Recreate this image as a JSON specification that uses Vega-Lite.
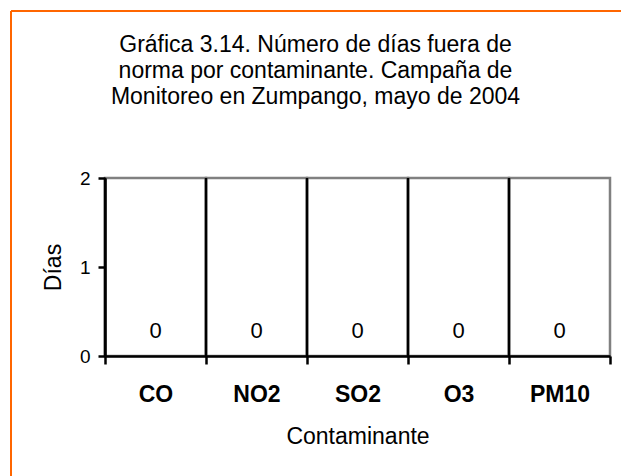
{
  "$schema": "https://vega.github.io/schema/vega-lite/v6.json",
  "width": 505,
  "height": 178,
  "autosize": "none",
  "padding": {"left": 105, "top": 178, "right": 11, "bottom": 120},
  "background": "white",
  "config": {"font": "Liberation Sans", "view": {"stroke": null}},
  "title": {
    "text": ["Gráfica 3.14. Número de días fuera de", "norma por contaminante. Campaña de", "Monitoreo en Zumpango, mayo de 2004"],
    "fontSize": 23,
    "fontWeight": "normal",
    "lineHeight": 26,
    "color": "black",
    "anchor": "middle",
    "frame": "group",
    "dx": -42,
    "offset": -99
  },
  "layer": [
    {
      "data": {"values": [
        {"contaminante": "CO", "dias": 0},
        {"contaminante": "NO2", "dias": 0},
        {"contaminante": "SO2", "dias": 0},
        {"contaminante": "O3", "dias": 0},
        {"contaminante": "PM10", "dias": 0}
      ]},
      "layer": [
        {
          "mark": {"type": "rect", "fill": null, "stroke": "#808080", "strokeWidth": 2.5},
          "encoding": {
            "x": {
              "field": "contaminante", "type": "nominal", "sort": null, "title": "Contaminante",
              "scale": {"paddingInner": 0, "paddingOuter": 0},
              "axis": {
                "orient": "bottom", "tickBand": "extent", "grid": false,
                "domainColor": "black", "domainWidth": 2.5,
                "tickColor": "black", "tickWidth": 2.5, "tickSize": 8,
                "labelAngle": 0, "labelFontSize": 23, "labelFontWeight": "bold", "labelColor": "black", "labelPadding": 19,
                "titleFontSize": 23, "titleFontWeight": "normal", "titleColor": "black", "titlePadding": 19,
                "zindex": 1
              }
            },
            "y": {
              "datum": 2, "type": "quantitative", "title": "Días",
              "scale": {"domain": [0, 2]},
              "axis": {
                "values": [0, 1, 2], "format": ".0f", "labelOverlap": false, "grid": false,
                "domainColor": "black", "domainWidth": 2.5,
                "tickColor": "black", "tickWidth": 2.5, "tickSize": 7,
                "labelFontSize": 19, "labelColor": "black", "labelPadding": 8,
                "titleFontSize": 23, "titleFontWeight": "normal", "titleColor": "black", "titlePadding": 14,
                "zindex": 1
              }
            },
            "y2": {"datum": 0}
          }
        },
        {
          "mark": {"type": "bar", "color": "#9999FF"},
          "encoding": {
            "x": {"field": "contaminante", "type": "nominal", "sort": null, "title": "Contaminante"},
            "y": {"field": "dias", "type": "quantitative", "title": "Días"}
          }
        },
        {
          "mark": {"type": "rule", "color": "black", "strokeWidth": 2.5},
          "encoding": {
            "x": {"field": "contaminante", "type": "nominal", "sort": null, "bandPosition": 0, "title": "Contaminante"},
            "y": {"datum": 0, "type": "quantitative", "title": "Días"},
            "y2": {"datum": 2}
          }
        },
        {
          "mark": {"type": "text", "fontSize": 22, "dy": -25, "baseline": "middle", "color": "black"},
          "encoding": {
            "x": {"field": "contaminante", "type": "nominal", "sort": null, "title": "Contaminante"},
            "y": {"field": "dias", "type": "quantitative", "title": "Días"},
            "text": {"field": "dias", "type": "quantitative"}
          }
        }
      ]
    },
    {
      "data": {"values": [{"marco": "borde"}]},
      "layer": [
        {
          "mark": {"type": "rule", "color": "#FF6600", "strokeWidth": 2},
          "encoding": {
            "x": {"datum": 0, "type": "quantitative", "scale": {"domain": [0, 1], "range": [-94, 530]}, "axis": null},
            "x2": {"datum": 1},
            "y": {"datum": 1, "type": "quantitative", "scale": {"domain": [0, 1], "range": [310, -167]}, "axis": null}
          }
        },
        {
          "mark": {"type": "rule", "color": "#FF6600", "strokeWidth": 2},
          "encoding": {
            "x": {"datum": 0, "type": "quantitative", "axis": null},
            "y": {"datum": 0, "type": "quantitative", "axis": null},
            "y2": {"datum": 1}
          }
        }
      ]
    }
  ],
  "resolve": {"scale": {"x": "independent", "y": "independent"}}
}
